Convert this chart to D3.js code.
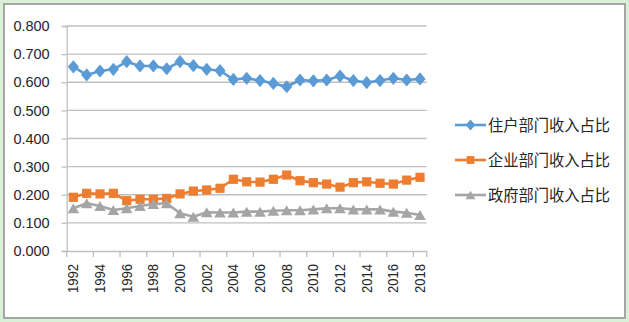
<!DOCTYPE html>
<html><head><meta charset="utf-8">
<script src="https://cdn.jsdelivr.net/npm/d3@7"></script>
<style>body{margin:0;background:#d9f0d9;} svg{display:block;}</style>
</head><body>
<svg id="c" width="629" height="322"></svg>
<script>
const years = d3.range(1992, 2019).map(String);
const household = [0.655,0.626,0.640,0.646,0.673,0.658,0.658,0.648,0.673,0.659,0.646,0.641,0.610,0.614,0.606,0.596,0.584,0.608,0.605,0.608,0.622,0.606,0.599,0.606,0.614,0.608,0.612];
const enterprise = [0.191,0.205,0.203,0.205,0.179,0.184,0.184,0.187,0.203,0.213,0.217,0.223,0.255,0.246,0.245,0.255,0.270,0.250,0.243,0.238,0.227,0.243,0.246,0.241,0.238,0.252,0.262];
const government = [0.152,0.170,0.160,0.146,0.152,0.160,0.167,0.170,0.134,0.122,0.138,0.137,0.137,0.140,0.140,0.143,0.145,0.145,0.148,0.152,0.152,0.148,0.148,0.148,0.140,0.136,0.128];
const seriesNames = ["住户部门收入占比","企业部门收入占比","政府部门收入占比"];
const seriesColors = ["#5b9bd5","#ed7d31","#a5a5a5"];
const yTicks = [0,0.1,0.2,0.3,0.4,0.5,0.6,0.7,0.8];
const xTickLabels = years.filter((d,i)=>i%2===0);

const svg = d3.select("#c");
svg.append("rect").attr("x",4).attr("y",4).attr("width",621).attr("height",314)
  .attr("fill","#fff").attr("stroke","#a6a6a6").attr("stroke-width",2);

const x = d3.scaleBand().domain(years).range([66.7, 426.7]);
const y = d3.scaleLinear().domain([0,0.8]).range([251,26]);

// gridlines
svg.append("g").selectAll("line").data(yTicks.slice(1)).join("line")
  .attr("x1",66.7).attr("x2",426.7).attr("y1",d=>y(d)).attr("y2",d=>y(d))
  .attr("stroke","#bfbfbf").attr("stroke-width",1.3);

// y axis
const yAxis = svg.append("g").attr("transform","translate(66.7,0)")
  .call(d3.axisLeft(y).tickValues(yTicks).tickFormat(d3.format(".3f")).tickSize(5).tickPadding(12));
yAxis.select(".domain").attr("stroke","#bfbfbf").attr("stroke-width",1.3);
yAxis.selectAll(".tick line").attr("stroke","#bfbfbf").attr("stroke-width",1.3);
yAxis.selectAll("text").attr("font-family","Liberation Sans, Arial, sans-serif")
  .attr("font-size",14.5).attr("fill","#262626");

// x axis
const xAxis = svg.append("g").attr("transform","translate(0,251)")
  .call(d3.axisBottom(x).tickValues(xTickLabels).tickSize(0).tickPadding(0));
xAxis.select(".domain").attr("stroke","#bfbfbf").attr("stroke-width",1.3);
xAxis.selectAll(".tick line").remove();
xAxis.selectAll(".tick text")
  .attr("font-family","Liberation Sans, Arial, sans-serif").attr("font-size",14).attr("fill","#262626")
  .attr("text-anchor","end").attr("dy","0.36em")
  .attr("textLength",29).attr("lengthAdjust","spacingAndGlyphs")
  .attr("transform","translate(0,13) rotate(-90)").attr("x",0).attr("y",0);
// x tick marks every 2 categories at boundaries
const boundaries = years.filter((d,i)=>i%2===0).map(d=>x(d)).concat([x.range()[1]]);
svg.append("g").selectAll("line").data(boundaries).join("line")
  .attr("x1",d=>d).attr("x2",d=>d).attr("y1",251).attr("y2",257)
  .attr("stroke","#bfbfbf").attr("stroke-width",1.3);

// custom marker shapes (size = scale factor)
const diamond = {draw(ctx, s){ const w=5.6*s, h=6.6*s; ctx.moveTo(0,-h); ctx.lineTo(w,0); ctx.lineTo(0,h); ctx.lineTo(-w,0); ctx.closePath(); }};
const square = {draw(ctx, s){ const a=4.6*s; ctx.moveTo(-a,-a); ctx.lineTo(a,-a); ctx.lineTo(a,a); ctx.lineTo(-a,a); ctx.closePath(); }};
const triangle = {draw(ctx, s){ const w=5.8*s, h=5*s; ctx.moveTo(0,-h); ctx.lineTo(w,h); ctx.lineTo(-w,h); ctx.closePath(); }};
const symbols = [diamond, square, triangle];

const cx = d => x(d) + x.bandwidth()/2;
const allSeries = [household, enterprise, government];
const line = d3.line().x((d,i)=>cx(years[i])).y(d=>y(d));

allSeries.forEach((vals,k)=>{
  svg.append("path").datum(vals).attr("d",line).attr("fill","none")
    .attr("stroke",seriesColors[k]).attr("stroke-width",2.6).attr("stroke-linejoin","round");
  svg.append("g").selectAll("path").data(vals).join("path")
    .attr("transform",(d,i)=>`translate(${cx(years[i])},${y(d)})`)
    .attr("d",d3.symbol().type(symbols[k]).size(1)())
    .attr("fill",seriesColors[k]);
});

// legend
const legendY = [125, 160, 195];
const lg = svg.append("g");
seriesNames.forEach((name,k)=>{
  lg.append("line").attr("x1",455).attr("x2",486).attr("y1",legendY[k]).attr("y2",legendY[k])
    .attr("stroke",seriesColors[k]).attr("stroke-width",2.6);
  lg.append("path").attr("transform",`translate(470.5,${legendY[k]})`)
    .attr("d",d3.symbol().type(symbols[k]).size(0.85)()).attr("fill",seriesColors[k]);
  lg.append("text").attr("x",488).attr("y",legendY[k]).attr("dy","0.36em")
    .attr("font-family","Noto Sans CJK SC, sans-serif").attr("font-size",16)
    .attr("textLength",122).attr("lengthAdjust","spacingAndGlyphs")
    .attr("fill","#262626").text(name);
});
</script>
</body></html>
